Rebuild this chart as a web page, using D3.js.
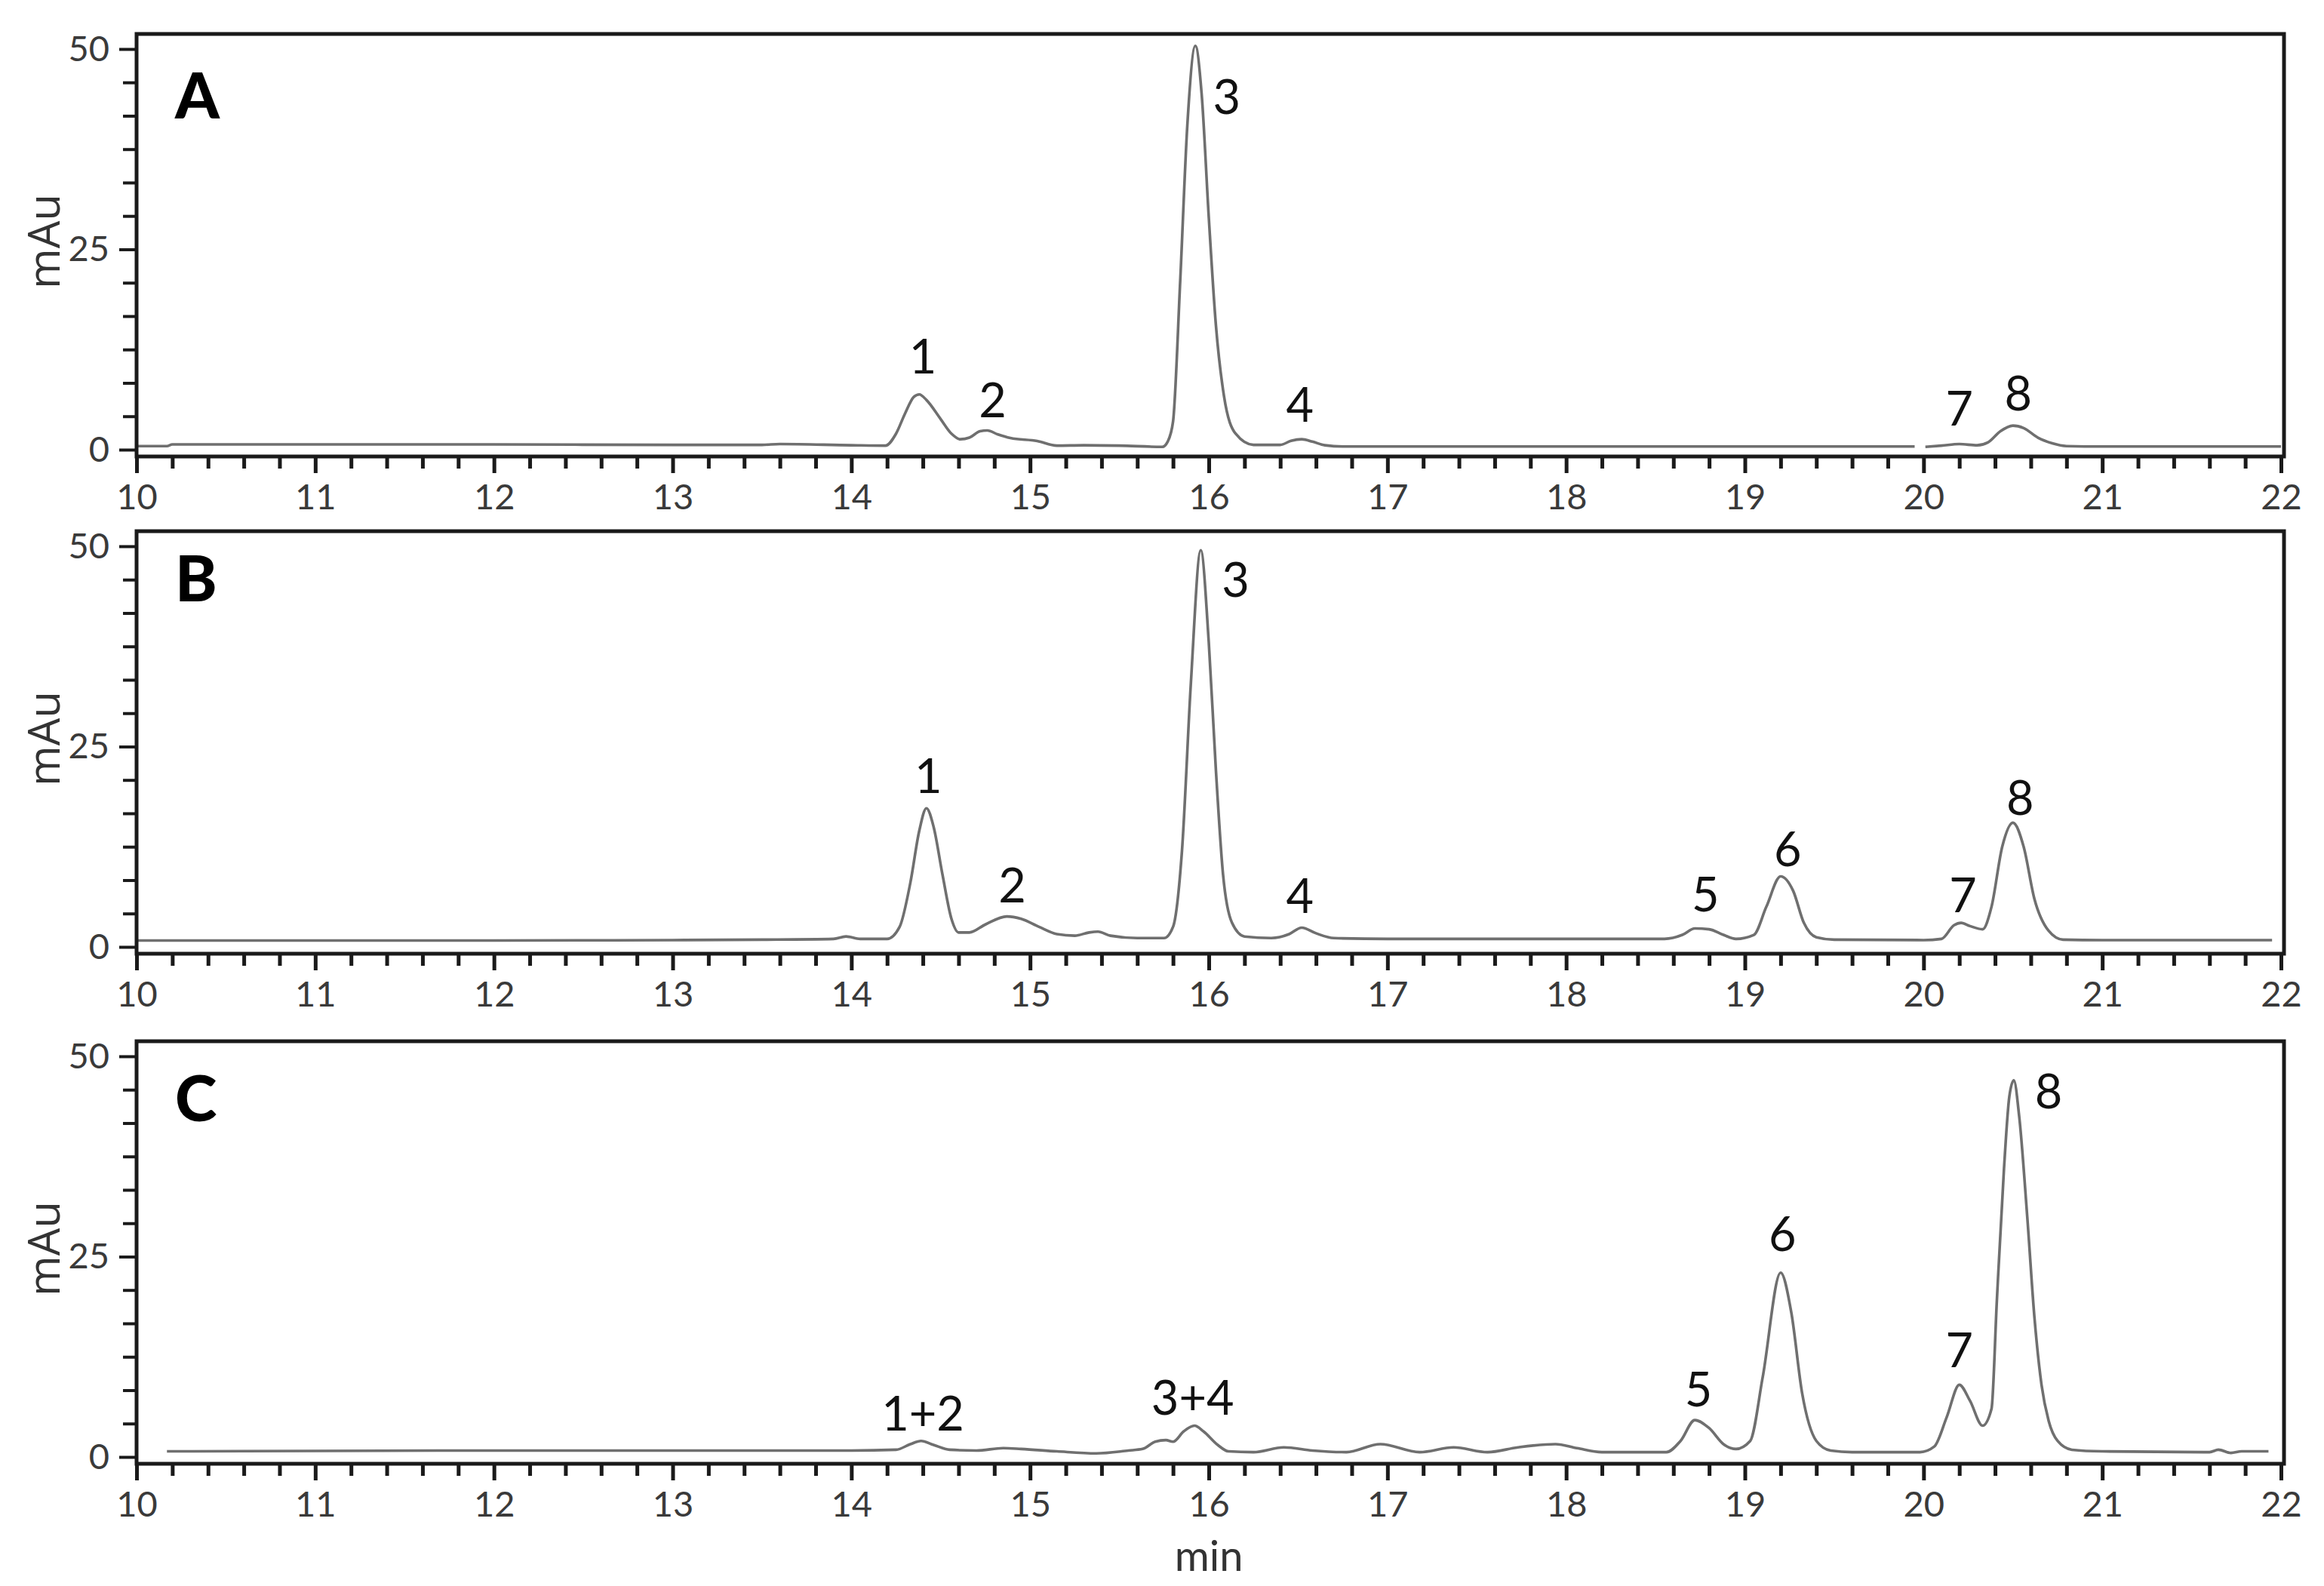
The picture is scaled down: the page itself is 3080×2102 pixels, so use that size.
<!DOCTYPE html>
<html>
<head>
<meta charset="utf-8">
<script src="https://cdn.jsdelivr.net/npm/d3@7"></script>
<style>
  body { margin: 0; background: #ffffff; }
  svg { display: block; }
</style>
</head>
<body>
<script>
// ---------------- DATA ----------------
const panelNames = ["A", "B", "C"];
const xTickValues = [10, 11, 12, 13, 14, 15, 16, 17, 18, 19, 20, 21, 22];
const yTickLabelValues = [0, 25, 50];
const xAxisTitle = "min";
const yAxisTitle = "mAu";

// [time (min), absorbance (mAu)] ; null = break in the trace
const traceA = [
  [10.0,0.45],[10.17,0.45],[10.2,0.65],[11,0.65],[12,0.65],[13,0.6],[13.5,0.6],[13.6,0.7],
  [14.0,0.55],[14.19,0.5],[14.25,2.0],[14.3,4.5],[14.35,6.6],[14.38,6.9],[14.42,6.2],[14.5,3.8],
  [14.56,2.0],[14.61,1.3],[14.66,1.5],[14.72,2.3],[14.76,2.4],[14.82,1.9],[14.89,1.45],[15.04,1.08],
  [15.15,0.5],[15.3,0.55],[15.5,0.5],[15.74,0.35],[15.77,1.0],[15.8,3.5],[15.84,21],[15.88,40.5],
  [15.925,50.4],[15.96,44.4],[16.0,29],[16.04,15.5],[16.085,6.7],[16.15,2.0],[16.25,0.6],[16.4,0.6],
  [16.46,1.1],[16.52,1.3],[16.58,1.0],[16.65,0.55],[16.75,0.4],[17,0.4],[18,0.4],[19,0.4],[19.95,0.4],
  null,
  [20.01,0.35],[20.1,0.5],[20.2,0.7],[20.3,0.55],[20.36,0.9],[20.43,2.3],[20.5,3.0],[20.56,2.7],
  [20.64,1.5],[20.72,0.8],[20.8,0.45],[21,0.4],[22,0.4]
];
const traceB = [
  [10.0,0.8],[11,0.8],[12,0.8],[13,0.85],[13.5,0.9],[13.9,1.0],[13.97,1.3],[14.05,1.0],[14.2,1.0],
  [14.27,2.5],[14.33,8],[14.38,14.5],[14.42,17.3],[14.46,15],[14.51,9],[14.56,3.5],[14.6,1.8],
  [14.66,1.8],[14.75,2.8],[14.87,3.8],[14.95,3.5],[15.05,2.5],[15.15,1.6],[15.25,1.4],[15.33,1.8],
  [15.38,1.9],[15.45,1.4],[15.6,1.1],[15.75,1.1],[15.8,2.5],[15.85,12],[15.9,33],[15.955,49.5],
  [16.0,38],[16.04,22],[16.08,9],[16.13,3],[16.2,1.3],[16.35,1.1],[16.45,1.6],[16.52,2.4],[16.6,1.7],
  [16.7,1.1],[17,1.0],[18,1.0],[18.55,1.0],[18.65,1.5],[18.72,2.3],[18.8,2.2],[18.88,1.5],[18.95,1.0],
  [19.05,1.5],[19.12,5],[19.2,8.8],[19.27,7],[19.33,3],[19.4,1.2],[19.5,0.9],[20.0,0.85],[20.1,1.0],
  [20.17,2.7],[20.21,3.0],[20.26,2.6],[20.33,2.2],[20.38,5],[20.44,12.5],[20.5,15.5],[20.56,12.5],
  [20.62,6],[20.7,2],[20.78,0.9],[21,0.85],[21.95,0.85]
];
const traceC = [
  [10.17,0.7],[11,0.75],[12,0.8],[13,0.8],[14,0.8],[14.25,0.9],[14.33,1.6],[14.39,2.0],[14.46,1.5],
  [14.55,0.9],[14.7,0.8],[14.85,1.1],[14.95,1.0],[15.15,0.7],[15.37,0.45],[15.55,0.8],[15.63,1.0],
  [15.7,1.9],[15.76,2.1],[15.8,1.9],[15.86,3.2],[15.92,3.9],[15.97,3.2],[16.05,1.5],[16.11,0.7],
  [16.25,0.6],[16.42,1.2],[16.58,0.8],[16.77,0.6],[16.96,1.6],[17.18,0.6],[17.37,1.2],[17.56,0.6],
  [17.73,1.2],[17.94,1.6],[18.06,1.1],[18.2,0.6],[18.56,0.6],[18.64,2],[18.72,4.6],[18.8,3.6],
  [18.88,1.6],[18.95,1.0],[19.03,2],[19.1,10],[19.2,23],[19.26,18],[19.32,8],[19.4,2],[19.48,0.8],
  [19.6,0.6],[19.98,0.6],[20.06,1.3],[20.13,5],[20.2,9.0],[20.26,7],[20.33,3.9],[20.38,6],[20.41,19.5],
  [20.45,36],[20.48,45],[20.505,47],[20.535,42.5],[20.58,30],[20.62,17.5],[20.66,9],[20.7,4.5],
  [20.75,2],[20.83,0.9],[21,0.7],[21.6,0.6],[21.65,0.9],[21.72,0.5],[21.78,0.7],[21.93,0.7]
];

// peak labels: [text, time, mAu] (centre of the label)
const labelsA = [["1",14.40,11.8],["2",14.79,6.4],["3",16.10,44.2],["4",16.51,5.8],["7",20.20,5.3],["8",20.53,7.2]];
const labelsB = [["1",14.43,21.5],["2",14.90,7.9],["3",16.15,46.0],["4",16.51,6.5],["5",18.78,6.7],["6",19.24,12.4],["7",20.22,6.6],["8",20.54,18.8]];
const labelsC = [["1+2",14.40,5.6],["3+4",15.91,7.6],["5",18.74,8.6],["6",19.21,28.0],["7",20.20,13.5],["8",20.70,45.8]];

// ---------------- LAYOUT ----------------
const W = 3080, H = 2102;
const left = 181, right = 3027, x22 = 3023;
const panelTops = [45, 704, 1380];
const panelH = 560;
const letterBaselineOffset = [112, 93, 106];

const traces = [traceA, traceB, traceC];
const labelSets = [labelsA, labelsB, labelsC];

const svg = d3.select("body").append("svg").attr("width", W).attr("height", H)
  .style("font-family", "Lato, 'Open Sans', sans-serif");
svg.append("rect").attr("width", W).attr("height", H).attr("fill", "#fff");

const x = d3.scaleLinear().domain([10, 22]).range([left, x22]);
const minorX = d3.range(0, 61).map(i => 10 + i * 0.2).filter(v => Math.abs(v - Math.round(v)) > 1e-6);
const minorY = d3.range(0, 13).map(i => i * 50 / 12).filter(v => ![0, 25, 50].some(m => Math.abs(m - v) < 1e-6));

svg.append("defs").selectAll("clipPath").data(panelTops).join("clipPath")
  .attr("id", (d, i) => "clip" + i)
  .append("rect").attr("x", left + 2).attr("y", d => d + 2)
  .attr("width", right - left - 4).attr("height", panelH - 4);

panelTops.forEach((T, i) => {
  const y = d3.scaleLinear().domain([-0.85, 51.88]).range([T + panelH, T]);
  const g = svg.append("g");

  // trace
  const line = d3.line()
    .defined(d => d !== null)
    .x(d => x(d[0])).y(d => y(d[1]))
    .curve(d3.curveMonotoneX);
  g.append("path").datum(traces[i])
    .attr("clip-path", `url(#clip${i})`)
    .attr("d", line).attr("fill", "none")
    .attr("stroke", "#6f6f6f").attr("stroke-width", 3.6).attr("stroke-linejoin", "round");

  // x axis minor
  const xMinor = g.append("g").attr("transform", `translate(0,${T + panelH})`)
    .call(d3.axisBottom(x).tickValues(minorX).tickSize(16).tickFormat(""));
  xMinor.select(".domain").remove();
  xMinor.selectAll("line").attr("stroke", "#1a1a1a").attr("stroke-width", 5);
  // x axis major
  const xMajor = g.append("g").attr("transform", `translate(0,${T + panelH})`)
    .call(d3.axisBottom(x).tickValues(xTickValues).tickSize(22).tickPadding(15).tickFormat(d3.format("d")));
  xMajor.select(".domain").remove();
  xMajor.selectAll("line").attr("stroke", "#1a1a1a").attr("stroke-width", 5);
  xMajor.selectAll("text").attr("font-size", 47).attr("fill", "#3a3a3a")
    .attr("font-family", "Lato, 'Open Sans', sans-serif");

  // y axis minor
  const yMinor = g.append("g").attr("transform", `translate(${left},0)`)
    .call(d3.axisLeft(y).tickValues(minorY).tickSize(18).tickFormat(""));
  yMinor.select(".domain").remove();
  yMinor.selectAll("line").attr("stroke", "#1a1a1a").attr("stroke-width", 4);
  // y axis major
  const yMajor = g.append("g").attr("transform", `translate(${left},0)`)
    .call(d3.axisLeft(y).tickValues(yTickLabelValues).tickSize(23).tickPadding(13).tickFormat(d3.format("d")));
  yMajor.select(".domain").remove();
  yMajor.selectAll("line").attr("stroke", "#1a1a1a").attr("stroke-width", 4);
  yMajor.selectAll("text").attr("font-size", 47).attr("fill", "#3a3a3a")
    .attr("font-family", "Lato, 'Open Sans', sans-serif");

  // frame
  g.append("rect").attr("x", left).attr("y", T).attr("width", right - left).attr("height", panelH)
    .attr("fill", "none").attr("stroke", "#1a1a1a").attr("stroke-width", 5);

  // panel letter
  g.append("text").attr("x", 232).attr("y", T + letterBaselineOffset[i])
    .attr("font-size", 84).attr("font-weight", 900).attr("fill", "#000")
    .text(panelNames[i]);

  // peak labels
  g.selectAll("text.peak").data(labelSets[i]).join("text").attr("class", "peak")
    .attr("x", d => x(d[1])).attr("y", d => y(d[2]))
    .attr("text-anchor", "middle").attr("dominant-baseline", "central")
    .attr("font-size", 63).attr("fill", "#111")
    .text(d => d[0]);

  // y title
  g.append("text")
    .attr("transform", `translate(56,${T + 275}) rotate(-90)`)
    .attr("text-anchor", "middle").attr("dominant-baseline", "central")
    .attr("font-size", 58).attr("fill", "#333").attr("font-family", "'Open Sans', Lato, sans-serif")
    .text(yAxisTitle);
});

svg.append("text").attr("x", x(16)).attr("y", 2060)
  .attr("text-anchor", "middle").attr("dominant-baseline", "central")
  .attr("font-size", 56).attr("fill", "#333")
  .text(xAxisTitle);
</script>
</body>
</html>
